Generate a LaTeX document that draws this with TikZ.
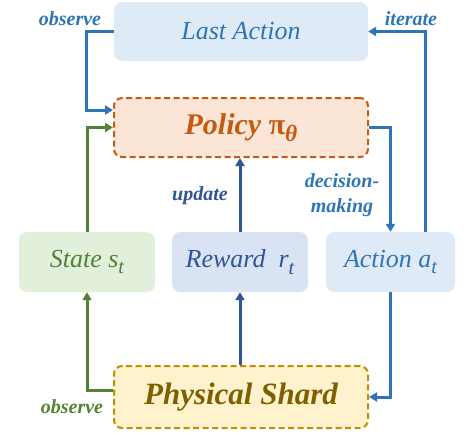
\documentclass[tikz,border=0pt]{standalone}
\usepackage{fontspec}
\setmainfont{Liberation Serif}
\usetikzlibrary{arrows.meta}

\definecolor{actblue}{HTML}{2E75B6}
\definecolor{actfill}{HTML}{DEEBF7}
\definecolor{polorange}{HTML}{C55A11}
\definecolor{polfill}{HTML}{FBE5D6}
\definecolor{stgreen}{HTML}{548235}
\definecolor{stfill}{HTML}{E2EFDA}
\definecolor{rwblue}{HTML}{2F5597}
\definecolor{rwfill}{HTML}{DAE3F3}
\definecolor{phgold}{HTML}{BF9000}
\definecolor{phfill}{HTML}{FFF2CC}
\definecolor{phtext}{HTML}{7F6000}

% lowered, smaller subscript for italic text
\newcommand{\lowsub}[1]{\raisebox{-0.25em}{\scalebox{0.78}{#1}}}

\tikzset{
  box/.style={rounded corners=8pt, inner sep=0pt, align=center},
  softbox/.style={box, draw=none},
  dashbox/.style={box, draw, line width=2pt, dash pattern=on 6pt off 3.5pt},
  link/.style={line width=3pt, -{Triangle[length=8pt,width=9pt]}},
  tag/.style={font=\fontsize{20}{21}\selectfont\bfseries\itshape, inner sep=0pt, align=center},
  boxtext/.style={font=\fontsize{26}{28}\selectfont\itshape},
}

\begin{document}
\begin{tikzpicture}[x=1pt,y=-1pt]
\useasboundingbox (0,0) rectangle (466,434);

% nodes
\node[softbox, boxtext, fill=actfill, text=actblue, minimum width=254pt, minimum height=59pt]
  (last) at (241,31.5) {Last Action};
\node[dashbox, draw=polorange, fill=polfill, text=polorange, minimum width=254pt, minimum height=59pt,
  font=\fontsize{30}{32}\selectfont\bfseries\itshape]
  (policy) at (241,127.5) {Policy {\upshape π}\lowsub{θ}};
\node[softbox, boxtext, fill=stfill, text=stgreen, minimum width=136pt, minimum height=60pt]
  (state) at (87,262) {State s\lowsub{t}};
\node[softbox, boxtext, fill=rwfill, text=rwblue, minimum width=136pt, minimum height=60pt]
  (reward) at (240,262) {Reward\ \ r\lowsub{t}};
\node[softbox, boxtext, fill=actfill, text=actblue, minimum width=129pt, minimum height=60pt]
  (action) at (390.5,262) {Action a\lowsub{t}};
\node[dashbox, draw=phgold, fill=phfill, text=phtext, minimum width=254pt, minimum height=62pt,
  font=\fontsize{31}{33}\selectfont\bfseries\itshape]
  (phys) at (241,397) {Physical Shard};

% labels
\node[tag, text=actblue] (lobs) at (70,19) {observe};
\node[tag, text=actblue] (lit) at (411,19) {iterate};
\node[tag, text=rwblue] (lup) at (200,196) {update};
\node[tag, text=actblue, font=\fontsize{20}{25}\selectfont\bfseries\itshape] (ldec) at (342,195) {decision-\\making};
\node[tag, text=stgreen] (lobs2) at (72,407) {observe};

% anchor points on box sides
\coordinate (pin1) at ([yshift=17.5pt]policy.west);
\coordinate (itr) at ([xshift=34.5pt]action.north);
\coordinate (pout) at ([yshift=7pt]phys.west);

% connectors
\draw[link, actblue] (last.west) -- ++(-27,0) |- (pin1);
\draw[link, stgreen] (state.north) |- (policy.west);
\draw[link, actblue] (policy.east) -| (action.north);
\draw[link, actblue] (itr) |- (last.east);
\draw[link, rwblue] (reward.north) -- (reward.north |- policy.south);
\draw[link, rwblue] (reward.south |- phys.north) -- (reward.south);
\draw[link, stgreen] (pout) -| (state.south);
\draw[link, actblue] (action.south) |- (phys.east);
\end{tikzpicture}
\end{document}
